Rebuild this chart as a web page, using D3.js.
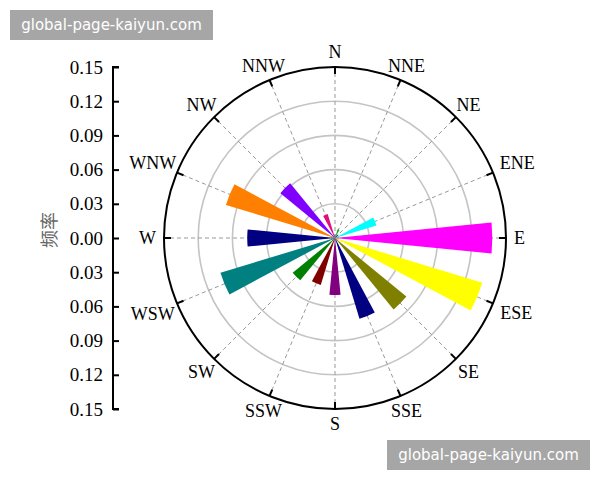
<!DOCTYPE html>
<html lang="zh">
<head>
<meta charset="UTF-8">
<title>风向频率玫瑰图</title>
<style>
  body { margin: 0; background: #fff; }
  svg { display: block; }
</style>
</head>
<body>
<div id="chart"></div>
<script src="https://cdn.jsdelivr.net/npm/d3@7/dist/d3.min.js"></script>
<script>
// wind directions, clockwise from north
const directions = ["N", "NNE", "NE", "ENE", "E", "ESE", "SE", "SSE",
                    "S", "SSW", "SW", "WSW", "W", "WNW", "NW", "NNW"];
// frequency of each direction
const frequencies = [0.003, 0.008, 0.004, 0.038, 0.138, 0.135, 0.081, 0.074,
                     0.050, 0.043, 0.048, 0.105, 0.077, 0.100, 0.062, 0.022];
const barColors = ["#0000ff", "#00b000", "#000080", "#00ffff", "#ff00ff", "#ffff00", "#808000", "#000080",
                   "#800080", "#800000", "#008000", "#008080", "#000080", "#ff8000", "#8000ff", "#e0107a"];
const ringValues = [0.03, 0.06, 0.09, 0.12];
const yTicks = [-0.15, -0.12, -0.09, -0.06, -0.03, 0, 0.03, 0.06, 0.09, 0.12, 0.15];

const width = 600, height = 480;
const cx = 335, cy = 238, R = 171;
const serif = "'Liberation Serif', 'Times New Roman', serif";

const svg = d3.select("#chart").append("svg")
    .attr("width", width)
    .attr("height", height);

// radial scale
const r = d3.scaleLinear().domain([0, 0.15]).range([0, R]);
const step = 2 * Math.PI / directions.length;

const g = svg.append("g").attr("transform", `translate(${cx},${cy})`);

// grey rings
g.selectAll("circle.ring")
  .data(ringValues)
  .join("circle")
    .attr("class", "ring")
    .attr("r", d => r(d))
    .attr("fill", "none")
    .attr("stroke", "#c4c4c4")
    .attr("stroke-width", 1.6);

// dashed spokes
g.selectAll("line.spoke")
  .data(directions)
  .join("line")
    .attr("class", "spoke")
    .attr("x1", 0).attr("y1", 0)
    .attr("x2", (d, i) => R * Math.sin(i * step))
    .attr("y2", (d, i) => -R * Math.cos(i * step))
    .attr("stroke", "#999")
    .attr("stroke-width", 1)
    .attr("stroke-dasharray", "4,3");

// bars
const arc = d3.arc()
    .innerRadius(0)
    .outerRadius(d => r(d.value))
    .startAngle(d => d.i * step - step / 4)
    .endAngle(d => d.i * step + step / 4);

g.selectAll("path.bar")
  .data(frequencies.map((v, i) => ({ value: v, i: i })))
  .join("path")
    .attr("class", "bar")
    .attr("d", arc)
    .attr("fill", d => barColors[d.i]);

// outer circle
g.append("circle")
    .attr("r", R)
    .attr("fill", "none")
    .attr("stroke", "#000")
    .attr("stroke-width", 2);

// inward ticks on the outer circle
g.selectAll("line.otick")
  .data(directions)
  .join("line")
    .attr("class", "otick")
    .attr("x1", (d, i) => R * Math.sin(i * step))
    .attr("y1", (d, i) => -R * Math.cos(i * step))
    .attr("x2", (d, i) => (R - 7) * Math.sin(i * step))
    .attr("y2", (d, i) => -(R - 7) * Math.cos(i * step))
    .attr("stroke", "#000")
    .attr("stroke-width", 2);

// direction labels, pushed out so their box sits just off the circle
const labels = g.selectAll("text.dir")
  .data(directions)
  .join("text")
    .attr("class", "dir")
    .attr("text-anchor", "middle")
    .attr("dy", "0.35em")
    .style("font-family", serif)
    .style("font-size", "18px")
    .text(d => d);

labels.each(function(d, i) {
  const a = i * step;
  const sx = Math.abs(Math.sin(a)), sy = Math.abs(Math.cos(a));
  const hw = this.getComputedTextLength() / 2, hh = 7;
  const off = Math.min(sx > 1e-6 ? hw / sx : Infinity, sy > 1e-6 ? hh / sy : Infinity);
  const rr = R + 8 + off;
  d3.select(this)
    .attr("x", rr * Math.sin(a))
    .attr("y", -rr * Math.cos(a));
});

// left frequency axis
const y = d3.scaleLinear().domain([-0.15, 0.15]).range([409, 67]);
const yAxis = d3.axisRight(y)
    .tickValues(yTicks)
    .tickSize(6)
    .tickFormat(d => Math.abs(d).toFixed(2));

const ax = svg.append("g")
    .attr("transform", "translate(113,0)")
    .call(yAxis)
    .attr("font-family", serif)
    .attr("font-size", 19);
ax.select(".domain").attr("stroke-width", 2).attr("d", "M6,67H0V409H6");
ax.selectAll(".tick line").attr("stroke-width", 2);
ax.selectAll(".tick text")
    .attr("x", -10)
    .attr("text-anchor", "end")
    .attr("fill", "#000");

svg.append("text")
    .attr("transform", "translate(50,230) rotate(-90)")
    .attr("text-anchor", "middle")
    .attr("dy", "0.35em")
    .style("font-family", "'Noto Sans CJK SC', sans-serif")
    .style("font-size", "18px")
    .attr("fill", "#666")
    .text("频率");

// watermark boxes
const marks = [{ x: 10, y: 10 }, { x: 387, y: 440 }];
marks.forEach(m => {
  svg.append("rect")
      .attr("x", m.x).attr("y", m.y)
      .attr("width", 203).attr("height", 30)
      .attr("fill", "#a6a6a6");
  svg.append("text")
      .attr("x", m.x + 101.5).attr("y", m.y + 15)
      .attr("text-anchor", "middle")
      .attr("dy", "0.35em")
      .style("font-family", "'DejaVu Sans', sans-serif")
      .style("font-size", "15px")
      .attr("fill", "#fff")
      .text("global-page-kaiyun.com");
});
</script>
</body>
</html>
